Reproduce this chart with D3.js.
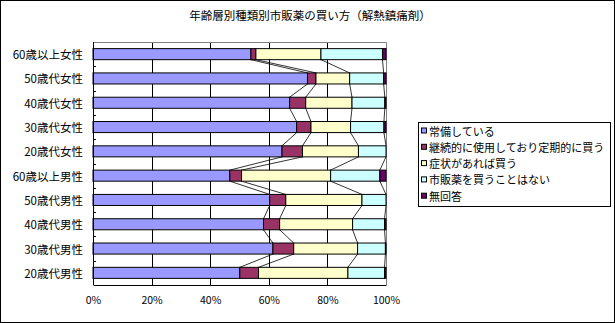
<!DOCTYPE html>
<html>
<head>
<meta charset="utf-8">
<script src="https://cdn.jsdelivr.net/npm/d3@7"></script>
<style>
  html, body { margin: 0; padding: 0; background: #fff; }
  svg { display: block; }
  text { font-family: "Noto Sans CJK JP", "Noto Sans", sans-serif; fill: #000; }
</style>
</head>
<body>
<svg id="chart" width="615" height="323"></svg>
<script>
// Categories listed bottom-to-top (first entry sits at the bottom of the plot)
const categories = [
  "20歳代男性", "30歳代男性", "40歳代男性", "50歳代男性", "60歳以上男性",
  "20歳代女性", "30歳代女性", "40歳代女性", "50歳代女性", "60歳以上女性"
];
const seriesNames = [
  "常備している",
  "継続的に使用しており定期的に買う",
  "症状があれば買う",
  "市販薬を買うことはない",
  "無回答"
];
// Percentages per series, in category order
const joubi     = [50.1, 61.4, 58.2, 60.3, 46.7, 64.5, 69.5, 67.1, 73.2, 53.9];
const keizoku   = [ 6.4,  7.1,  5.5,  5.5,  4.0,  7.0,  4.9,  5.5,  2.9,  1.7];
const shoujou   = [30.5, 21.8, 24.9, 26.0, 30.4, 19.1, 13.5, 15.8, 11.5, 22.2];
const kawanai   = [12.5,  9.5, 10.9,  8.2, 16.8,  9.4, 11.4, 11.2, 11.6, 21.0];
const mukaitou  = [ 0.5,  0.2,  0.5,  0.0,  2.1,  0.0,  0.7,  0.4,  0.8,  1.2];
const tickLabels = ["0%", "20%", "40%", "60%", "80%", "100%"];
const colors = ["#9999FF", "#993366", "#FFFFCC", "#CCFFFF", "#660066"];
const title = "年齢層別種類別市販薬の買い方（解熱鎮痛剤）";

const seriesValues = [joubi, keizoku, shoujou, kawanai, mukaitou];
const rows = categories.map((c, i) => {
  const r = { cat: c };
  seriesNames.forEach((s, k) => { r[s] = seriesValues[k][i]; });
  return r;
});

const svg = d3.select("#chart");
const plot = { left: 93, right: 386, top: 42, bottom: 285 };

const x = d3.scaleLinear().domain([0, 100]).range([plot.left, plot.right]);
const y = d3.scaleBand()
  .domain(categories.slice().reverse())
  .range([plot.top, plot.bottom])
  .paddingInner(0.545)
  .paddingOuter(0.2725);

const stack = d3.stack().keys(seriesNames);
const layers = stack(rows);

// outer frame
svg.append("rect").attr("x", 0.5).attr("y", 0.5).attr("width", 614).attr("height", 322)
  .attr("fill", "#fff").attr("stroke", "#000").attr("stroke-width", 1);

// title
svg.append("text").attr("x", 310).attr("y", 15).attr("text-anchor", "middle")
  .attr("dominant-baseline", "central").attr("font-size", "11.5px").text(title);

// vertical gridlines
svg.append("g").selectAll("line").data(x.ticks(5).slice(1, -1)).join("line")
  .attr("x1", d => Math.round(x(d)) + 0.5).attr("x2", d => Math.round(x(d)) + 0.5)
  .attr("y1", plot.top).attr("y2", plot.bottom)
  .attr("stroke", "#000").attr("stroke-width", 1);

// plot border (top/right grey)
svg.append("path")
  .attr("d", `M${plot.left},${plot.top + 0.5}H${plot.right + 0.5}V${plot.bottom}`)
  .attr("fill", "none").attr("stroke", "#808080");

// series lines connecting segment ends of neighbouring bars
const sl = svg.append("g");
layers.slice(0, 4).forEach(layer => {
  for (let i = 0; i < layer.length - 1; i++) {
    const a = layer[i], b = layer[i + 1];
    // a is lower bar (category i), b is the one above it
    sl.append("line")
      .attr("x1", x(a[1])).attr("y1", y(categories[i]))
      .attr("x2", x(b[1])).attr("y2", y(categories[i + 1]) + y.bandwidth())
      .attr("stroke", "#000").attr("stroke-width", 0.8);
  }
});

// bars
svg.append("g").selectAll("g").data(layers).join("g")
  .attr("fill", (d, k) => colors[k])
  .selectAll("rect").data(d => d.filter(p => p[1] - p[0] > 0)).join("rect")
  .attr("x", d => x(d[0]))
  .attr("y", d => y(d.data.cat))
  .attr("width", d => x(d[1]) - x(d[0]))
  .attr("height", y.bandwidth())
  .attr("stroke", "#000").attr("stroke-width", 1);

// category axis
const yAxis = svg.append("g");
yAxis.append("line").attr("x1", plot.left + 0.5).attr("x2", plot.left + 0.5)
  .attr("y1", plot.top).attr("y2", plot.bottom).attr("stroke", "#000");
const bounds = d3.range(1, categories.length).map(i => plot.top + i * y.step());
yAxis.selectAll("line.tk").data(bounds).join("line").attr("class", "tk")
  .attr("x1", plot.left).attr("x2", plot.left + 3)
  .attr("y1", d => Math.round(d) + 0.5).attr("y2", d => Math.round(d) + 0.5)
  .attr("stroke", "#000");
yAxis.selectAll("text").data(categories).join("text")
  .attr("x", 83).attr("y", d => y(d) + y.bandwidth() / 2)
  .attr("text-anchor", "end").attr("dominant-baseline", "central")
  .attr("font-size", "11.5px").text(d => d);

// value axis
const xAxis = svg.append("g").attr("transform", `translate(0,${plot.bottom})`)
  .call(d3.axisBottom(x).tickValues([0, 20, 40, 60, 80, 100])
    .tickFormat((d, i) => tickLabels[i]).tickSize(0).tickPadding(12));
xAxis.select(".domain").attr("stroke", "#000");
xAxis.selectAll("text").attr("font-size", "10.5px")
  .attr("font-family", "\"Noto Sans CJK JP\", sans-serif");

// legend
const lg = svg.append("g");
lg.append("rect").attr("x", 418.5).attr("y", 122.5).attr("width", 192).attr("height", 84)
  .attr("fill", "#fff").attr("stroke", "#000");
const items = lg.selectAll("g").data(seriesNames).join("g")
  .attr("transform", (d, i) => `translate(421,${130.5 + i * 16.3})`);
items.append("rect").attr("x", 0.5).attr("y", -2.5).attr("width", 5).attr("height", 5)
  .attr("fill", (d, i) => colors[i]).attr("stroke", "#000");
items.append("text").attr("x", 8).attr("y", 0).attr("dominant-baseline", "central")
  .attr("font-size", "11px").text(d => d);
</script>
</body>
</html>
